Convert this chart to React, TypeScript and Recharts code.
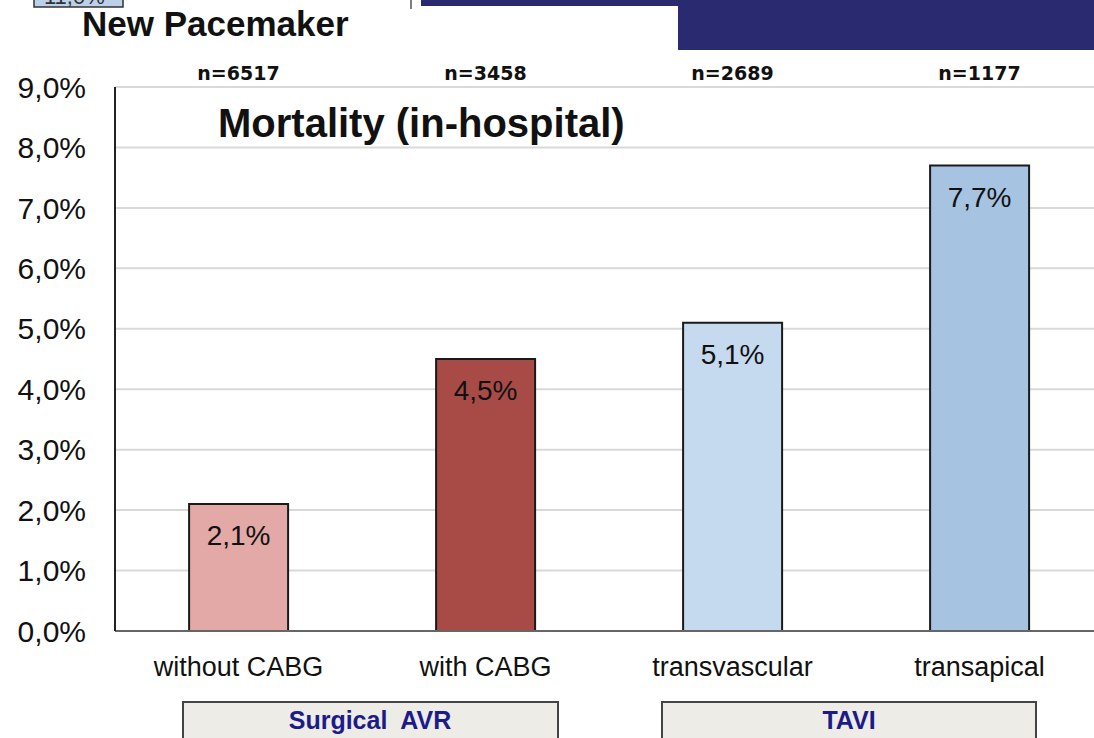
import React from 'react';
import { BarChart, Bar, XAxis, YAxis, CartesianGrid, Cell, LabelList } from 'recharts';

const categories = ['without CABG', 'with CABG', 'transvascular', 'transapical'];
const mortality = [2.1, 4.5, 5.1, 7.7];
const sampleSizes = ['n=6517', 'n=3458', 'n=2689', 'n=1177'];
const barColors = ['#e2a9a7', '#a84b47', '#c5d9ef', '#a7c3e2'];
const yTicks = [0, 1, 2, 3, 4, 5, 6, 7, 8, 9];
const groupLabels = ['Surgical  AVR', 'TAVI'];

const data = categories.map((c, i) => ({ cat: c, value: mortality[i], n: sampleSizes[i] }));

const fmt = (v: number) => v.toFixed(1).replace('.', ',') + '%';

const ARIAL = '"Liberation Sans", Arial, Helvetica, sans-serif';

const BarValueLabel = (props: any) => {
  const { x, y, width, value } = props;
  return (
    <text
      x={x + width / 2}
      y={y + 41}
      textAnchor="middle"
      fontFamily={ARIAL}
      fontSize={28}
      fill="#111"
    >
      {fmt(value)}
    </text>
  );
};

export default function App() {
  return (
    <div
      style={{
        position: 'absolute',
        left: 0,
        top: 0,
        width: 1094,
        height: 738,
        overflow: 'hidden',
        background: '#fff',
      }}
    >
      <BarChart
        width={1110}
        height={738}
        data={data}
        margin={{ top: 0, right: 7, bottom: 0, left: 0 }}
        barCategoryGap="30%"
      >
        <CartesianGrid horizontal vertical={false} stroke="#d9d9d9" strokeWidth={2} />
        <XAxis
          dataKey="cat"
          xAxisId={0}
          height={107}
          axisLine={{ stroke: '#666', strokeWidth: 2 }}
          tickLine={false}
          tickSize={0}
          tickMargin={26}
          interval={0}
          tick={{ fontFamily: ARIAL, fontSize: 27, fill: '#111' }}
        />
        <XAxis
          dataKey="n"
          xAxisId="top"
          orientation="top"
          height={87}
          axisLine={false}
          tickLine={false}
          tickSize={0}
          tickMargin={7}
          interval={0}
          tick={{ fontFamily: '"DejaVu Sans", sans-serif', fontWeight: 'bold', fontSize: 19, fill: '#111' }}
        />
        <YAxis
          width={115}
          domain={[0, 9]}
          ticks={yTicks}
          tickFormatter={fmt}
          axisLine={{ stroke: '#222', strokeWidth: 2 }}
          tickLine={false}
          tickSize={0}
          tickMargin={29}
          interval={0}
          tick={{ fontFamily: ARIAL, fontSize: 30, fill: '#111' }}
        />
        <Bar dataKey="value" stroke="#1a1a1a" strokeWidth={2} isAnimationActive={false}>
          {data.map((d, i) => (
            <Cell key={d.cat} fill={barColors[i]} />
          ))}
          <LabelList dataKey="value" content={<BarValueLabel />} />
        </Bar>
      </BarChart>
      <svg
        width={1094}
        height={738}
        style={{ position: 'absolute', left: 0, top: 0, pointerEvents: 'none' }}
      >
        <rect x={34} y={-10} width={89} height={17} fill="#bcd0ea" stroke="#333" strokeWidth={1.5} />
        <text x={44} y={4} fontFamily={ARIAL} fontSize={22} fill="#333">11,0%</text>
        <line x1={411} y1={0} x2={411} y2={9} stroke="#555" strokeWidth={1.5} />
        <rect x={421} y={0} width={673} height={6} fill="#2a2a70" />
        <rect x={678} y={0} width={416} height={50} fill="#2a2a70" />
        <text x={82} y={36} fontFamily={ARIAL} fontWeight="bold" fontSize={35} fill="#111">
          New Pacemaker
        </text>
        <text x={218} y={137} fontFamily={ARIAL} fontWeight="bold" fontSize={40} fill="#111">
          Mortality (in-hospital)
        </text>
        <rect x={183} y={702} width={375} height={50} fill="#eeece6" stroke="#444" strokeWidth={2} />
        <text
          x={370}
          y={729}
          textAnchor="middle"
          fontFamily={ARIAL}
          fontWeight="bold"
          fontSize={25}
          fill="#1b1b8a"
          style={{ whiteSpace: 'pre' }}
        >
          {groupLabels[0]}
        </text>
        <rect x={662} y={702} width={374} height={50} fill="#eeece6" stroke="#444" strokeWidth={2} />
        <text
          x={849}
          y={729}
          textAnchor="middle"
          fontFamily={ARIAL}
          fontWeight="bold"
          fontSize={25}
          fill="#1b1b8a"
        >
          {groupLabels[1]}
        </text>
      </svg>
    </div>
  );
}
